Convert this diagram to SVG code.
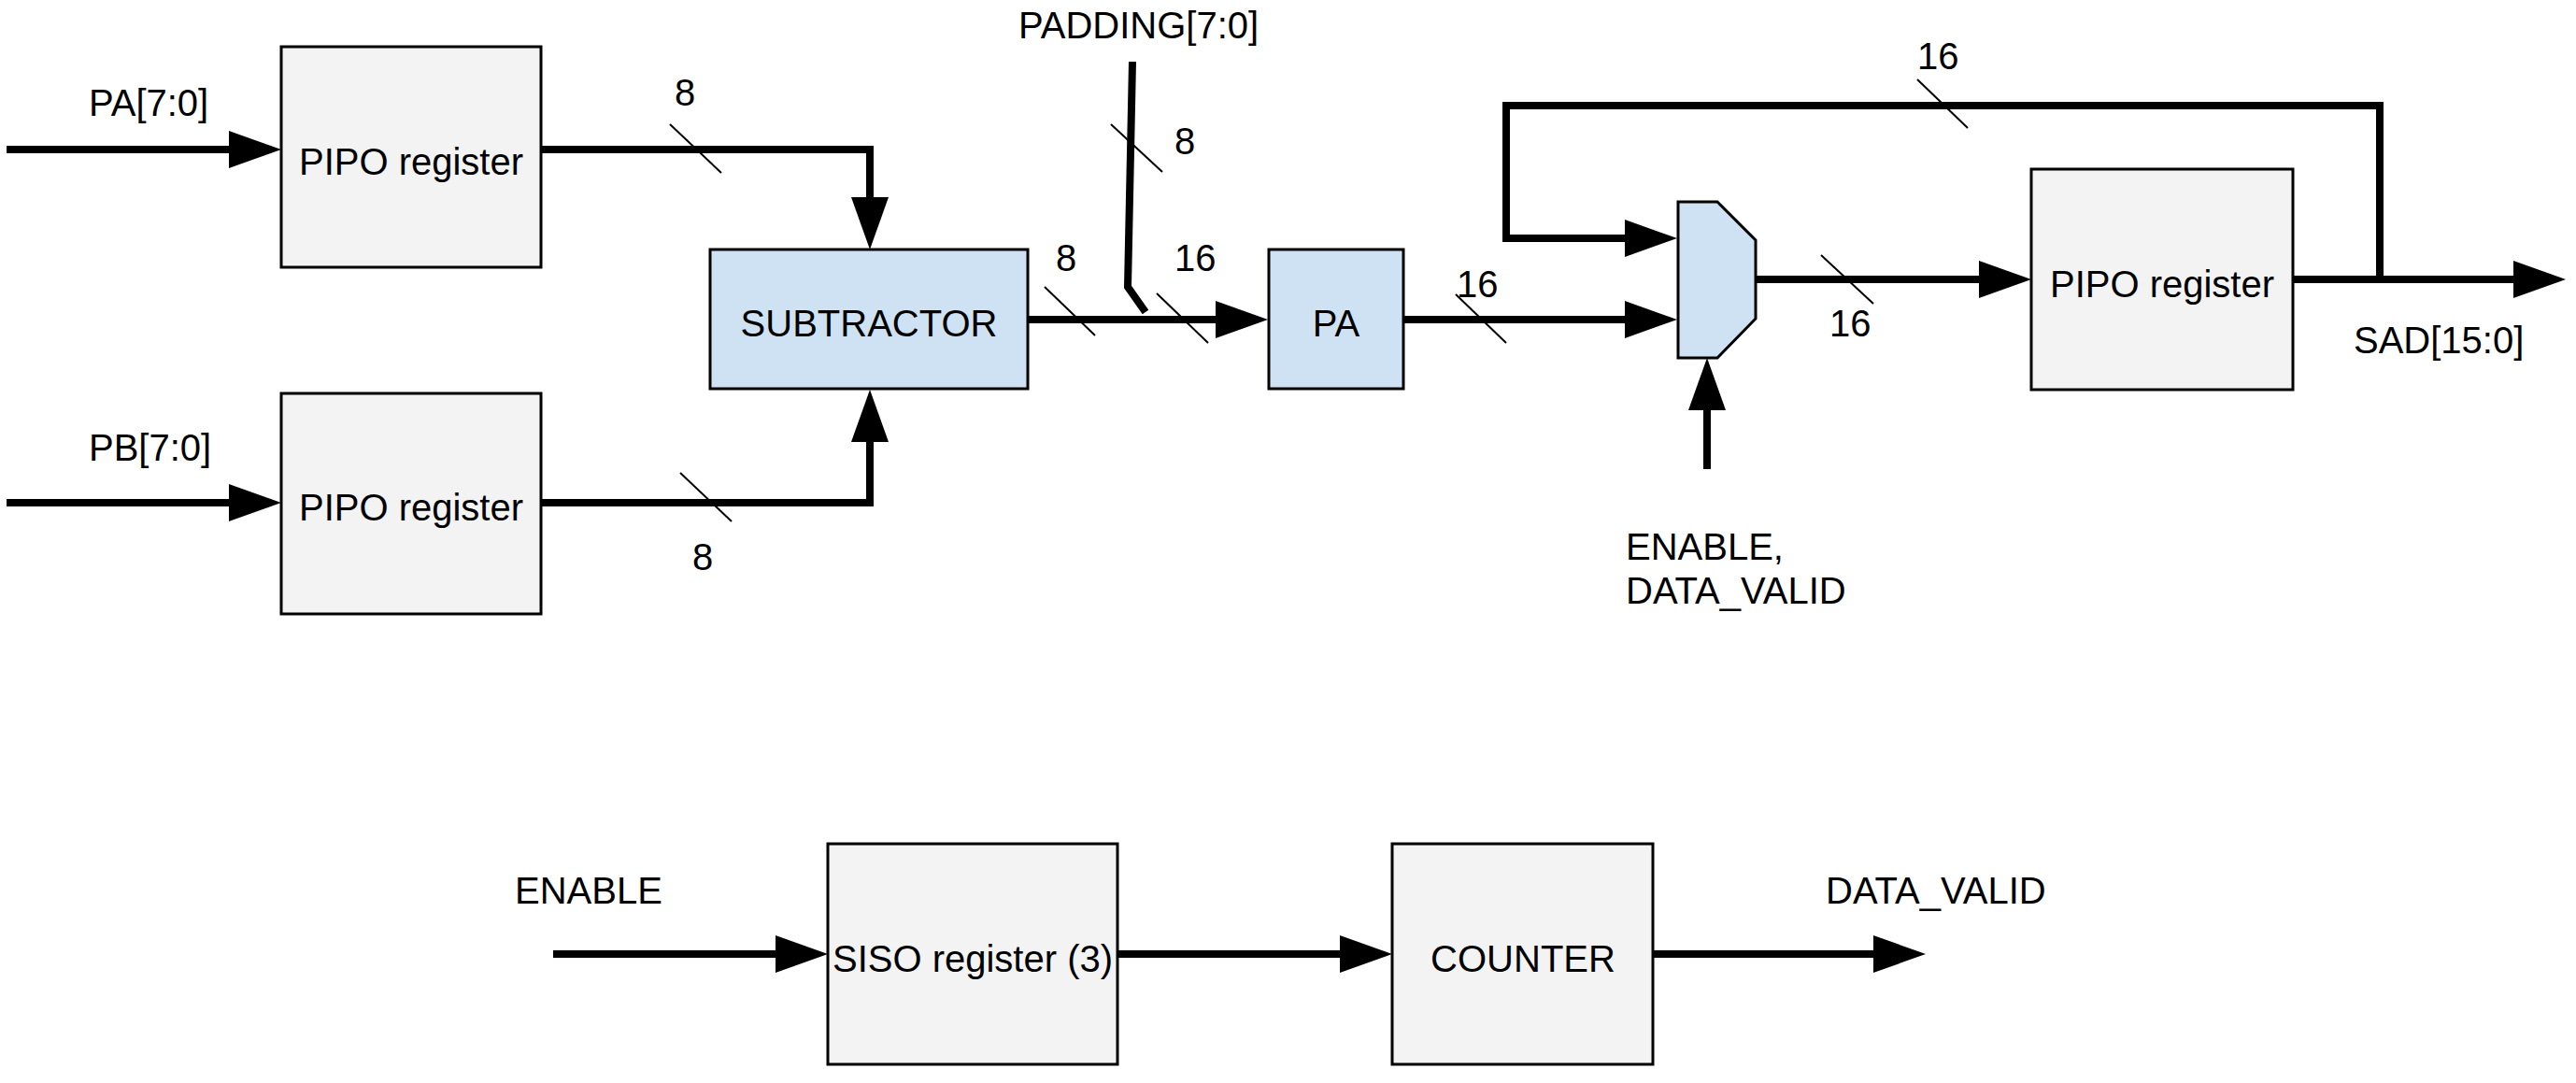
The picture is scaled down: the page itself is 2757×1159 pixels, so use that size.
<svg xmlns="http://www.w3.org/2000/svg" width="2757" height="1159" viewBox="0 0 2757 1159">
<style>
text{font-family:"Liberation Sans",Arial,sans-serif;font-size:40px;fill:#000}
.c{text-anchor:middle}
.box{fill:#f3f3f3;stroke:#000;stroke-width:3}
.blue{fill:#cfe2f3;stroke:#000;stroke-width:3}
.w{fill:none;stroke:#000;stroke-width:8;stroke-linejoin:miter;stroke-linecap:butt}
.a{marker-end:url(#ah)}
.s{fill:none;stroke:#000;stroke-width:2}
</style>
<defs>
<marker id="ah" markerUnits="userSpaceOnUse" markerWidth="56" markerHeight="40" viewBox="0 0 56 40" refX="16" refY="20" orient="auto">
<path d="M0,0 L56,20 L0,40 z" fill="#000"/>
</marker>
</defs>
<rect width="2757" height="1159" fill="#fff"/>
<g id="connectors">
<path class="w a" d="M7,160 H261"/>
<path class="w a" d="M7,538 H261"/>
<path class="w a" d="M579,160 H931 V227"/>
<path class="w a" d="M579,538 H931 V457"/>
<path class="w a" d="M1100,342 H1317"/>
<path class="w" d="M1212,66 L1207,307 L1226,334"/>
<path class="w a" d="M1502,342 H1755"/>
<path class="w a" d="M1879,299 H2134"/>
<path class="w a" d="M2454,299 H2706"/>
<path class="w a" d="M2547,299 V113 H1612 V255 H1755"/>
<path class="w a" d="M1827,502 V423"/>
<path class="w a" d="M592,1021 H846"/>
<path class="w a" d="M1196,1021 H1450"/>
<path class="w a" d="M1769,1021 H2021"/>
<path class="s" d="M717,133 L772,185"/>
<path class="s" d="M728,506 L783,558"/>
<path class="s" d="M1118,307 L1172,359"/>
<path class="s" d="M1238,314 L1293,367"/>
<path class="s" d="M1189,133 L1244,184"/>
<path class="s" d="M1558,315 L1612,367"/>
<path class="s" d="M1949,273 L2005,325"/>
<path class="s" d="M2052,85 L2106,137"/>
<text x="95" y="124">PA[7:0]</text>
<text x="95" y="493">PB[7:0]</text>
<text x="722" y="113">8</text>
<text x="741" y="610">8</text>
<text x="1090" y="41">PADDING[7:0]</text>
<text x="1257" y="165">8</text>
<text x="1130" y="290">8</text>
<text x="1257" y="290">16</text>
<text x="1559" y="318">16</text>
<text x="2052" y="74">16</text>
<text x="1958" y="360">16</text>
<text x="2519" y="378">SAD[15:0]</text>
<text x="1740" y="599">ENABLE,</text>
<text x="1740" y="646">DATA_VALID</text>
<text x="551" y="967">ENABLE</text>
<text x="1954" y="967">DATA_VALID</text>
</g>
<g id="pipo1"><rect class="box" x="301" y="50" width="278" height="236"/><text class="c" x="440" y="187">PIPO register</text></g>
<g id="pipo2"><rect class="box" x="301" y="421" width="278" height="236"/><text class="c" x="440" y="557">PIPO register</text></g>
<g id="subtractor"><rect class="blue" x="760" y="267" width="340" height="149"/><text class="c" x="930" y="360">SUBTRACTOR</text></g>
<g id="pa"><rect class="blue" x="1358" y="267" width="144" height="149"/><text class="c" x="1430" y="360">PA</text></g>
<g id="mux"><path class="blue" d="M1796,216 H1838 L1879,257 V341 L1838,383 H1796 Z"/></g>
<g id="pipo3"><rect class="box" x="2174" y="181" width="280" height="236"/><text class="c" x="2314" y="318">PIPO register</text></g>
<g id="siso"><rect class="box" x="886" y="903" width="310" height="236"/><text class="c" x="1041" y="1040">SISO register (3)</text></g>
<g id="counter"><rect class="box" x="1490" y="903" width="279" height="236"/><text class="c" x="1630" y="1040">COUNTER</text></g>
</svg>
